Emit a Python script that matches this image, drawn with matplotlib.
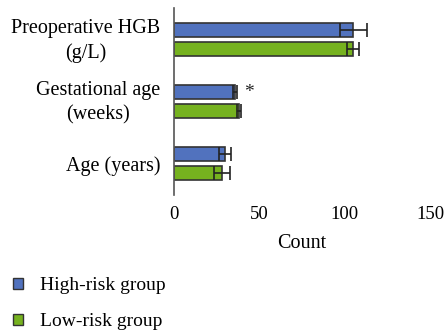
import matplotlib
matplotlib.use("Agg")
import matplotlib.pyplot as plt
import matplotlib.transforms as mtransforms
from matplotlib.patches import Patch
import numpy as np

categories = ["Preoperative HGB\n(g/L)", "Gestational age\n(weeks)", "Age (years)"]
high_risk = [105, 35.7, 30]
high_err = [8, 1, 3.6]
low_risk = [105, 38, 28.2]
low_err = [3.5, 1, 4.5]
xticks = [0, 50, 100, 150]

blue = "#5172be"
green = "#76b21f"
edge = "#333333"

plt.rcParams["font.family"] = ["Liberation Serif", "DejaVu Serif"]

fig = plt.figure(figsize=(4.45, 3.32), dpi=100)
ax = fig.add_axes([174 / 445, 1 - 195 / 332, (430 - 174) / 445, (195 - 8) / 332])

y = np.arange(len(categories))
h = 0.226
off = 0.153
err_kw = dict(ecolor="#222222", capsize=5, elinewidth=1.2, capthick=1.2)
ax.barh(y - off, high_risk, height=h, xerr=high_err, color=blue,
        edgecolor=edge, linewidth=1.2, error_kw=err_kw)
ax.barh(y + off, low_risk, height=h, xerr=low_err, color=green,
        edgecolor=edge, linewidth=1.2, error_kw=err_kw)

ax.text(high_risk[1] + high_err[1] + 7, y[1] - off, "*", fontsize=14,
        ha="center", va="center", color="#222222")

ax.set_xlim(0, 150)
ax.set_ylim(2.508, -0.508)
ax.set_xticks(xticks)
ax.set_yticks(y)
ax.set_yticklabels(categories, fontsize=14.5, multialignment="center",
                   linespacing=1.4)
ax.tick_params(axis="both", length=0)
ax.tick_params(axis="x", pad=8, labelsize=13.5)
ax.tick_params(axis="y", pad=10)

# nudge two-line category labels upward a little
lift = mtransforms.ScaledTranslation(0, 4 / 100, fig.dpi_scale_trans)
for lbl in ax.get_yticklabels():
    if "\n" in lbl.get_text():
        lbl.set_transform(lbl.get_transform() + lift)

for s in ["top", "right", "bottom"]:
    ax.spines[s].set_visible(False)
ax.spines["left"].set_color("#555555")
ax.spines["left"].set_linewidth(1.2)
ax.set_xlabel("Count", fontsize=14.5, labelpad=8)

handles = [Patch(facecolor=blue, edgecolor=edge, linewidth=1.0),
           Patch(facecolor=green, edgecolor=edge, linewidth=1.0)]
fig.legend(handles, ["High-risk group", "Low-risk group"], loc="upper left",
           bbox_to_anchor=(13 / 445, 1 - 277 / 332), frameon=False, fontsize=14,
           handlelength=0.5, handleheight=0.5, handletextpad=0.9,
           labelspacing=1.0, borderaxespad=0.0, borderpad=0.0)

fig.savefig("out.png", dpi=100)
